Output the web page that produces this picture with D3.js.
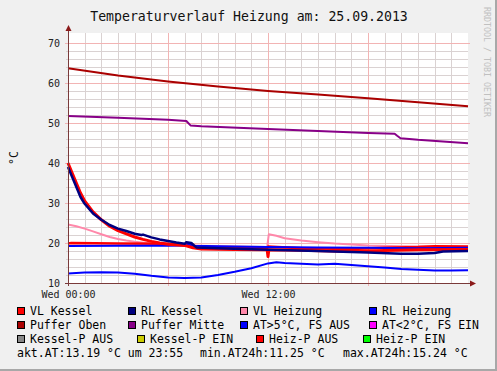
<!DOCTYPE html>
<html>
<head>
<meta charset="utf-8">
<script src="https://cdn.jsdelivr.net/npm/d3@7"></script>
<style>
  body { margin: 0; background: #f0f0f0; }
  svg { display: block; font-family: "DejaVu Sans Mono", monospace; }
</style>
</head>
<body>
<div id="chart"></div>
<script>
// values, [hour, °C]
const pufferOben = [[0,63.7],[3,61.9],[6,60.4],[9,59.1],[12,58.0],[15,57.1],[18,56.2],[21,55.2],[24,54.2]];
const pufferMitte = [[0,51.75],[3,51.3],[6,50.8],[7.1,50.5],[7.35,49.4],[8,49.2],[12,48.5],[15,48.0],[18,47.5],
  [19.6,47.3],[19.75,46.8],[19.95,46.2],[21,45.8],[24,44.95]];
const vlHeizung = [[0,24.6],[0.5,24.2],[1,23.6],[1.5,22.9],[2,22.2],[2.5,21.5],[3,21.0],[3.5,20.6],[4,20.3],[5,19.9],
  [6,19.6],[8,19.3],[10,19.1],[11.95,19.0],[12.05,22.2],[12.5,21.8],[13,21.2],[14,20.6],[15,20.2],[16,19.85],
  [17,19.6],[18,19.4],[20,19.2],[22,19.1],[24,19.0]];
const heizPAus = [[0,19.9],[0.2,20.0],[3,19.9],[6,19.8],[7,19.6],[7.5,19.2],[9,18.9],[11.95,18.8],[12,19.1],
  [14,18.7],[17,18.5],[19,18.8],[21,19.0],[22,19.2],[24,19.1]];
const vlKessel = [[0,40.0],[0.25,37.5],[0.5,35.0],[0.75,32.5],[1,30.5],[1.5,27.8],[2,25.8],[2.5,24.2],[3,23.1],
  [3.5,22.3],[4,21.5],[4.5,20.9],[5,20.4],[5.5,20.0],[6,19.7],[7,19.4],[7.5,18.8],[8,18.5],[10,18.4],
  [11.95,18.3],[12,16.6],[12.05,18.3],[14,18.2],[17,17.9],[19,18.1],[21,18.3],[24,18.4]];
const rlKessel = [[0,39.0],[0.25,36.5],[0.5,34.0],[0.75,31.5],[1,29.8],[1.5,27.4],[2,25.8],[2.5,24.5],[3,23.6],
  [3.5,23.0],[4,22.3],[4.4,22.0],[4.5,22.1],[5,21.4],[5.5,20.9],[6,20.5],[6.5,20.1],[7,19.8],[7.1,20.2],
  [7.4,20.0],[7.7,18.9],[9,18.7],[12,18.3],[15,18.0],[18,17.6],[20,17.3],[21,17.3],[22,17.5],[22.5,17.9],[24,18.0]];
const rlHeizung = [[0,19.25],[3,19.3],[6,19.3],[7,19.4],[7.2,19.8],[7.5,19.3],[9,19.2],[12,19.0],[15,18.9],
  [18,18.8],[21,18.7],[24,18.8]];
const aussen = [[0,12.4],[1,12.6],[2,12.7],[3,12.6],[4,12.3],[5,11.8],[6,11.4],[7,11.25],[8,11.4],[9,12.0],
  [10,12.8],[11,13.7],[12,14.9],[12.5,15.2],[13,15.0],[14,14.8],[15,14.6],[16,14.8],[17,14.5],
  [18,14.2],[19,13.9],[20,13.5],[21,13.3],[22,13.1],[23,13.1],[24,13.19]];

const yTicks = [10, 20, 30, 40, 50, 60, 70];
const xTicks = [0, 12];
const xTickLabels = ["Wed 00:00", "Wed 12:00"];

const legendLabels = [
  ["VL Kessel", "RL Kessel", "VL Heizung", "RL Heizung"],
  ["Puffer Oben", "Puffer Mitte", "AT>5°C, FS AUS", "AT<2°C, FS EIN"],
  ["Kessel-P AUS", "Kessel-P EIN", "Heiz-P AUS", "Heiz-P EIN"]
];
const legendColors = [
  ["#ff0000", "#000080", "#ff88aa", "#0000ff"],
  ["#aa0000", "#880088", "#0000ff", "#ff00ff"],
  ["#888888", "#cccc00", "#ff0000", "#00ff00"]
];
const summaryTexts = ["akt.AT:13.19 °C um 23:55", "min.AT24h:11.25 °C", "max.AT24h:15.24 °C"];

// layout
const W = 497, H = 371;
const plotL = 68, plotR = 468, plotT = 33, plotB = 283;
const legendX = [[17, 128, 240, 369], [17, 128, 240, 369], [17, 137, 256, 363]];
const summaryX = [17, 200, 343];

const svg = d3.select("#chart").append("svg").attr("width", W).attr("height", H);

svg.append("rect").attr("width", W).attr("height", H).attr("fill", "#f0f0f0");
svg.append("rect").attr("x", W - 2).attr("width", 2).attr("height", H).attr("fill", "#a8a8a8");
svg.append("rect").attr("y", H - 2).attr("width", W).attr("height", 2).attr("fill", "#a8a8a8");

const x = d3.scaleLinear().domain([0, 24]).range([plotL, plotR]);
const y = d3.scaleLinear().domain([10, 72.5]).range([plotB, plotT]);

svg.append("rect").attr("x", plotL).attr("y", plotT)
  .attr("width", plotR - plotL).attr("height", plotB - plotT).attr("fill", "#ffffff");

// minor grid
const grid = svg.append("g").attr("shape-rendering", "crispEdges");
grid.selectAll(".vmin").data(d3.range(1, 24).filter(h => h % 6 !== 0)).enter().append("line")
  .attr("x1", d => x(d) + 0.5).attr("x2", d => x(d) + 0.5)
  .attr("y1", plotT).attr("y2", plotB).attr("stroke", "#dad2d2");
grid.selectAll(".hmin").data(d3.range(12, 72, 2).filter(v => v % 10 !== 0)).enter().append("line")
  .attr("y1", d => y(d) + 0.5).attr("y2", d => y(d) + 0.5)
  .attr("x1", plotL - 2).attr("x2", plotR).attr("stroke", "#dad2d2");
// major grid
grid.selectAll(".vmaj").data([6, 12, 18]).enter().append("line")
  .attr("x1", d => x(d) + 0.5).attr("x2", d => x(d) + 0.5)
  .attr("y1", plotT).attr("y2", plotB + 3).attr("stroke", "#f2b4b4");
grid.selectAll(".hmaj").data(yTicks.filter(v => v > 10)).enter().append("line")
  .attr("y1", d => y(d) + 0.5).attr("y2", d => y(d) + 0.5)
  .attr("x1", plotL - 3).attr("x2", plotR + 2).attr("stroke", "#f2b4b4");

// series
const line = d3.line().x(d => x(d[0])).y(d => y(d[1]));
const series = [
  [vlHeizung, "#ff88aa", 2],
  [heizPAus, "#ff0000", 2.5],
  [rlHeizung, "#0000ff", 2],
  [vlKessel, "#ff0000", 3],
  [rlKessel, "#000080", 2.5],
  [aussen, "#0000ff", 2],
  [pufferMitte, "#880088", 2],
  [pufferOben, "#aa0000", 2]
];
svg.append("g").selectAll("path").data(series).enter().append("path")
  .attr("d", d => line(d[0])).attr("fill", "none")
  .attr("stroke", d => d[1]).attr("stroke-width", d => d[2])
  .attr("stroke-linejoin", "round");

// axes labels via d3 axes
const yAxis = svg.append("g").attr("transform", `translate(${plotL},0)`)
  .call(d3.axisLeft(y).tickValues(yTicks).tickSize(0).tickPadding(8));
const xAxis = svg.append("g").attr("transform", `translate(0,${plotB})`)
  .call(d3.axisBottom(x).tickValues(xTicks).tickSize(0).tickPadding(8)
    .tickFormat((d, i) => xTickLabels[i]));
[yAxis, xAxis].forEach(a => {
  a.select(".domain").remove();
  a.selectAll("text").attr("font-family", "DejaVu Sans Mono, monospace")
    .attr("font-size", 10).attr("fill", "#222");
});

// axis lines with arrows
const axisCol = "#7a3a3a";
svg.append("line").attr("x1", plotL - 3).attr("x2", plotR + 4).attr("y1", plotB + 0.5).attr("y2", plotB + 0.5)
  .attr("stroke", axisCol).attr("shape-rendering", "crispEdges");
svg.append("line").attr("x1", plotL + 0.5).attr("x2", plotL + 0.5).attr("y1", plotB + 3).attr("y2", plotT - 4)
  .attr("stroke", axisCol).attr("shape-rendering", "crispEdges");
svg.append("path").attr("d", `M${plotR + 2},${plotB - 2.5}L${plotR + 8},${plotB + 0.5}L${plotR + 2},${plotB + 3.5}Z`)
  .attr("fill", "#8b1a1a");
svg.append("path").attr("d", `M${plotL - 2.5},${plotT - 2}L${plotL + 0.5},${plotT - 8}L${plotL + 3.5},${plotT - 2}Z`)
  .attr("fill", "#8b1a1a");

// title, unit, watermark
svg.append("text").attr("x", 249).attr("y", 21).attr("text-anchor", "middle")
  .attr("font-size", 13.2).attr("fill", "#111").text("Temperaturverlauf Heizung am: 25.09.2013");
svg.append("text").attr("transform", `translate(18,${(plotT + plotB) / 2}) rotate(-90)`)
  .attr("text-anchor", "middle").attr("font-size", 11.5).attr("fill", "#111").text("°C");
svg.append("text").attr("transform", "translate(484,7) rotate(90)")
  .attr("font-size", 8.3).attr("fill", "#c0c0c0").text("RRDTOOL / TOBI OETIKER");

// legend
const legend = svg.append("g");
legendLabels.forEach((row, r) => {
  const yy = 315 + r * 14;
  row.forEach((lab, c) => {
    const g = legend.append("g").attr("transform", `translate(${legendX[r][c]},${yy})`);
    g.append("rect").attr("x", 0.5).attr("y", -7.5).attr("width", 7).attr("height", 7)
      .attr("fill", legendColors[r][c]).attr("stroke", "#000").attr("shape-rendering", "crispEdges");
    g.append("text").attr("x", 13).attr("y", 0).attr("font-size", 11.5).attr("fill", "#000").text(lab);
  });
});
summaryTexts.forEach((t, i) => {
  legend.append("text").attr("x", summaryX[i]).attr("y", 357)
    .attr("font-size", 11.5).attr("fill", "#000").text(t);
});
</script>
</body>
</html>
